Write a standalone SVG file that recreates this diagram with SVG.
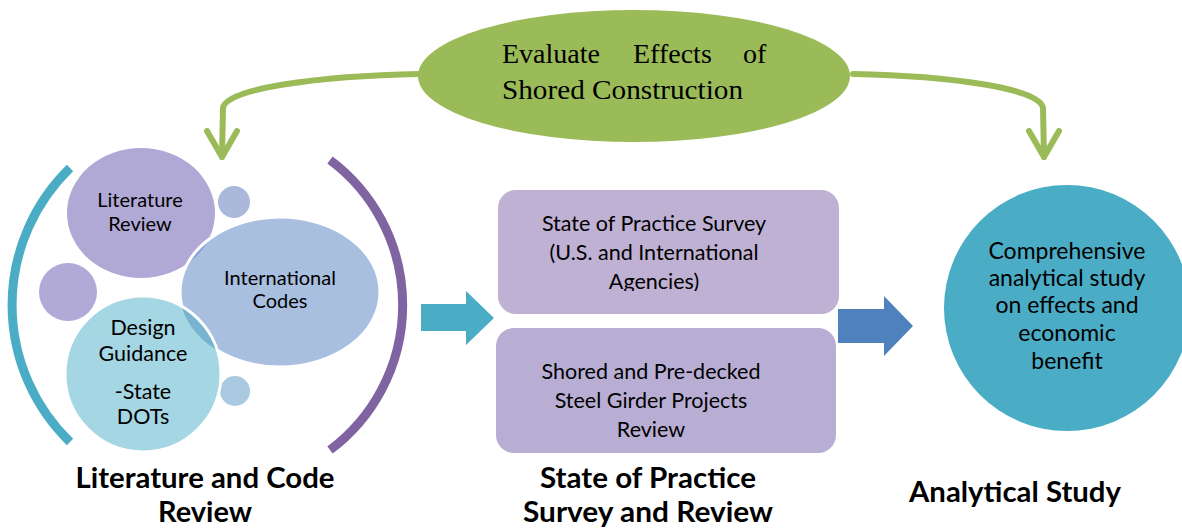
<svg xmlns="http://www.w3.org/2000/svg" width="1182" height="529" viewBox="0 0 1182 529">
  <style>
    .lbl { font-family: Lato, "Liberation Sans", sans-serif; fill: #000; text-anchor: middle; }
    .head { font-family: Lato, "Liberation Sans", sans-serif; font-weight: bold; fill: #000; text-anchor: middle; font-size: 28px; }
    .serif { font-family: "Liberation Serif", "Times New Roman", serif; fill: #000; font-size: 28px; }
    .conn { fill: none; stroke: #9bbb59; stroke-width: 6; stroke-linecap: round; stroke-linejoin: round; }
  </style>
  <defs>
    <clipPath id="clipIntl"><ellipse cx="280" cy="292" rx="100" ry="75"/></clipPath>
    <clipPath id="clipAgencies"><rect x="490" y="180" width="360" height="111"/></clipPath>
  </defs>

  <rect width="1182" height="529" fill="#fff"/>

  <!-- Central goal -->
  <g id="goal">
    <ellipse cx="634" cy="76" rx="216" ry="66" fill="#9bbb59"/>
    <text class="serif" x="502" y="63">Evaluate</text>
    <text class="serif" x="633" y="63">Effects</text>
    <text class="serif" x="743" y="63">of</text>
    <text class="serif" x="502" y="99" textLength="241" lengthAdjust="spacingAndGlyphs">Shored Construction</text>
  </g>

  <!-- Connectors -->
  <g id="connectors">
    <path class="conn" d="M420,74 C320,76 226,88 223,108 L222,157"/>
    <path class="conn" d="M207,131 L222,157 L237,131"/>
    <path class="conn" d="M853,74 C950,76 1040,88 1043,108 L1044,157"/>
    <path class="conn" d="M1029,131 L1044,157 L1059,131"/>
    <polygon id="arrow-review" points="421,304 466,304 466,291 494,318 466,345 466,331 421,331" fill="#4bacc6"/>
    <polygon id="arrow-analysis" points="838,309 884,309 884,296 913,326 884,356 884,343 838,343" fill="#4f81bd"/>
  </g>

  <!-- Literature and code review cluster -->
  <g id="literature-review">
    <path d="M70,168 A191,191 0 0 0 70,442" fill="none" stroke="#4bacc6" stroke-width="9"/>
    <path d="M330,160 A181,181 0 0 1 330,450" fill="none" stroke="#8064a2" stroke-width="9"/>

    <g id="lit-review">
      <ellipse cx="141" cy="213" rx="74" ry="65" fill="#b1a9d5"/>
      <text class="lbl" font-size="20" x="140" y="207">Literature</text>
      <text class="lbl" font-size="20" x="140" y="231">Review</text>
    </g>
    <circle id="dot-top" cx="234" cy="202" r="16" fill="#aab8dc"/>
    <circle id="dot-left" cx="68" cy="292" r="29" fill="#b1a9d6"/>
    <circle id="dot-bottom" cx="235" cy="391" r="15" fill="#a8c9e0"/>

    <g id="intl-codes">
      <ellipse cx="280" cy="292" rx="100" ry="75" fill="#a9bfdf"/>
      <ellipse cx="141" cy="213" rx="74" ry="65" fill="#8b9fd4" clip-path="url(#clipIntl)"/>
      <ellipse cx="280" cy="292" rx="100" ry="75" fill="none" stroke="#fff" stroke-width="3"/>
      <text class="lbl" font-size="20" x="280" y="285">International</text>
      <text class="lbl" font-size="20" x="280" y="308">Codes</text>
    </g>

    <g id="design-guidance">
      <circle cx="143" cy="374" r="78" fill="#a5d6e3"/>
      <circle cx="143" cy="374" r="78" fill="#78b4cf" clip-path="url(#clipIntl)"/>
      <circle cx="143" cy="374" r="78" fill="none" stroke="#fff" stroke-width="3"/>
      <text class="lbl" font-size="21.5" x="143" y="335">Design</text>
      <text class="lbl" font-size="21.5" x="143" y="361">Guidance</text>
      <text class="lbl" font-size="21.5" x="143" y="399">-State</text>
      <text class="lbl" font-size="21.5" x="143" y="424">DOTs</text>
    </g>

    <text class="head" x="205" y="488" textLength="259" lengthAdjust="spacingAndGlyphs">Literature and Code</text>
    <text class="head" x="205" y="522" textLength="94" lengthAdjust="spacingAndGlyphs">Review</text>
  </g>

  <!-- State of practice -->
  <g id="practice-survey">
    <rect x="498" y="190" width="341" height="124" rx="18" fill="#bfb1d3"/>
    <g clip-path="url(#clipAgencies)">
      <text class="lbl" font-size="21.5" x="654" y="231">State of Practice Survey</text>
      <text class="lbl" font-size="21.5" x="654" y="260">(U.S. and International</text>
      <text class="lbl" font-size="21.5" x="654" y="289">Agencies)</text>
    </g>
  </g>
  <g id="project-review">
    <rect x="496" y="328" width="340" height="125" rx="18" fill="#b8aed4"/>
    <text class="lbl" font-size="21.5" x="651" y="379">Shored and Pre-decked</text>
    <text class="lbl" font-size="21.5" x="651" y="408">Steel Girder Projects</text>
    <text class="lbl" font-size="21.5" x="651" y="437">Review</text>
  </g>
  <g id="practice-caption">
    <text class="head" x="648" y="488" textLength="216" lengthAdjust="spacingAndGlyphs">State of Practice</text>
    <text class="head" x="648" y="522" textLength="250" lengthAdjust="spacingAndGlyphs">Survey and Review</text>
  </g>

  <!-- Analytical study -->
  <g id="analytical-study">
    <circle cx="1067" cy="308" r="123" fill="#4bacc6"/>
    <text class="lbl" font-size="23" x="1067" y="259">Comprehensive</text>
    <text class="lbl" font-size="23" x="1067" y="286">analytical study</text>
    <text class="lbl" font-size="23" x="1067" y="313">on effects and</text>
    <text class="lbl" font-size="23" x="1067" y="341">economic</text>
    <text class="lbl" font-size="23" x="1067" y="369">benefit</text>
    <text class="head" x="1015" y="502" textLength="212" lengthAdjust="spacingAndGlyphs">Analytical Study</text>
  </g>
</svg>
